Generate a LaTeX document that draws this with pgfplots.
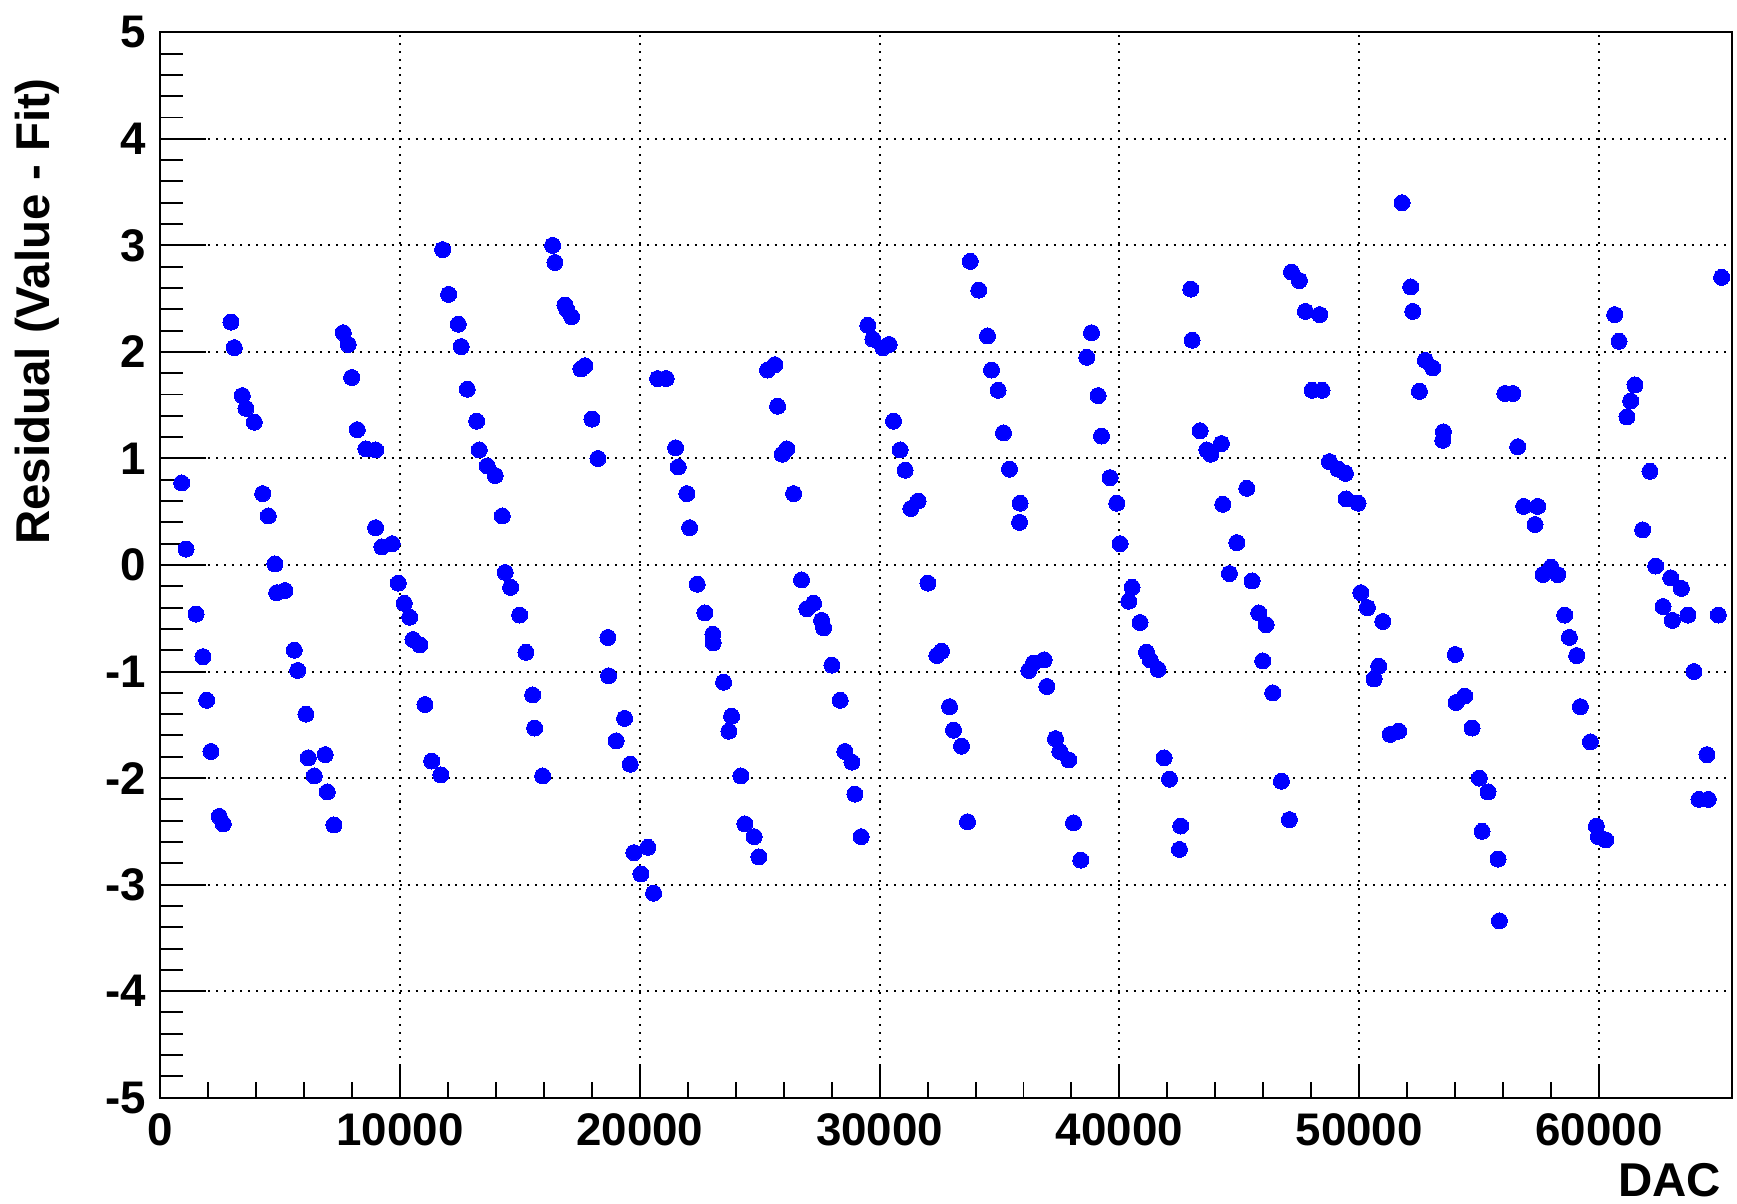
\documentclass[border=0pt]{standalone}
\usepackage{pgfplots}
\usepackage{pgfplotstable}
\pgfplotsset{compat=1.18}
\usepackage{fontspec}
\setmainfont{Liberation Sans}
\definecolor{rootblue}{RGB}{0,0,255}
\pgfplotstableread{
x y
891 0.77
1072 0.15
1489 -0.46
1780 -0.86
1934 -1.27
2114 -1.75
2460 -2.36
2627 -2.43
2948 2.28
3086 2.04
3420 1.59
3573 1.47
3920 1.34
4270 0.67
4506 0.46
4783 0.01
4853 -0.26
5200 -0.24
5588 -0.80
5728 -0.99
6075 -1.40
6172 -1.81
6422 -1.98
6880 -1.78
6964 -2.13
7243 -2.44
7631 2.18
7839 2.07
7981 1.76
8215 1.27
8577 1.09
8981 1.08
8977 0.35
9245 0.17
9674 0.20
9925 -0.17
10175 -0.36
10399 -0.49
10537 -0.70
10829 -0.75
11038 -1.31
11316 -1.84
11704 -1.97
11775 2.96
12025 2.54
12426 2.26
12551 2.05
12801 1.65
13193 1.35
13302 1.08
13635 0.93
13969 0.84
14261 0.46
14386 -0.07
14611 -0.21
14986 -0.47
15249 -0.82
15528 -1.22
15611 -1.53
15945 -1.98
16362 3.00
16458 2.84
16875 2.44
16950 2.40
17154 2.33
17542 1.84
17709 1.87
18001 1.37
18251 1.00
18668 -0.68
18696 -1.04
19014 -1.65
19364 -1.44
19597 -1.87
19752 -2.70
20044 -2.90
20335 -2.65
20573 -3.08
20740 1.75
21099 1.75
21490 1.10
21600 0.92
21962 0.67
22074 0.35
22392 -0.18
22712 -0.45
23045 -0.65
23059 -0.73
23492 -1.10
23713 -1.56
23825 -1.42
24213 -1.98
24380 -2.43
24768 -2.55
24964 -2.74
25327 1.83
25631 1.88
25743 1.49
25936 1.04
26131 1.09
26411 0.67
26744 -0.14
26965 -0.41
27244 -0.36
27578 -0.52
27662 -0.59
28008 -0.94
28354 -1.27
28550 -1.75
28842 -1.85
28967 -2.15
29230 -2.55
29508 2.25
29717 2.12
30134 2.04
30397 2.07
30580 1.35
30856 1.08
31064 0.89
31302 0.53
31606 0.60
32011 -0.17
32386 -0.85
32581 -0.81
32915 -1.33
33082 -1.55
33415 -1.70
33665 -2.41
33780 2.85
34136 2.58
34499 2.15
34666 1.83
34941 1.64
35166 1.24
35416 0.90
35859 0.58
35834 0.40
36221 -0.99
36417 -0.92
36861 -0.89
36972 -1.14
37335 -1.63
37515 -1.75
37890 -1.83
38085 -2.42
38390 -2.77
38641 1.95
38836 2.18
39111 1.59
39250 1.21
39611 0.82
39890 0.58
40028 0.20
40390 -0.34
40528 -0.21
40862 -0.54
41129 -0.82
41279 -0.89
41613 -0.98
41863 -1.81
42088 -2.01
42505 -2.67
42559 -2.45
42977 2.59
43032 2.11
43364 1.26
43645 1.08
43811 1.04
44256 1.14
44311 0.57
44590 -0.08
44896 0.21
45311 0.72
45532 -0.15
45812 -0.45
45978 -0.90
46117 -0.56
46395 -1.20
46757 -2.03
47090 -2.39
47174 2.75
47508 2.67
47758 2.38
48035 1.64
48355 2.35
48452 1.64
48759 0.97
49118 0.90
49426 0.86
49452 0.62
49952 0.58
50065 -0.26
50344 -0.40
50620 -1.07
50815 -0.95
50982 -0.53
51287 -1.59
51649 -1.56
51787 3.40
52149 2.61
52232 2.38
52512 1.63
52762 1.92
53066 1.85
53484 1.17
53512 1.25
54012 -0.84
54038 -1.29
54400 -1.23
54705 -1.53
55010 -2.00
55122 -2.50
55372 -2.13
55789 -2.76
55847 -3.34
56075 1.61
56408 1.61
56611 1.11
56860 0.55
57332 0.38
57444 0.55
57666 -0.09
58000 -0.02
58279 -0.09
58571 -0.47
58767 -0.68
59071 -0.85
59225 -1.33
59642 -1.66
59892 -2.45
59975 -2.55
60280 -2.58
60656 2.35
60835 2.10
61168 1.39
61321 1.54
61502 1.69
61821 0.33
62127 0.88
62365 -0.01
62672 -0.39
62992 -0.12
63060 -0.52
63436 -0.22
63712 -0.47
63962 -1.00
64170 -2.20
64504 -1.78
64559 -2.20
64979 -0.47
65116 2.70
}\resdata
\begin{document}
\begin{tikzpicture}
\begin{axis}[
  scale only axis,
  width=157.14mm, height=106.54mm,
  xmin=0, xmax=65536, ymin=-5, ymax=5,
  xtick={0,10000,...,60000}, minor x tick num=4,
  ytick={-5,-4,...,5}, minor y tick num=4,
  scaled x ticks=false, scaled y ticks=false,
  tick pos=left,
  tick align=inside,
  major tick length=4.6mm, minor tick length=2.3mm,
  xtick style={/pgfplots/major tick length=3.2mm,/pgfplots/minor tick length=1.6mm},
  tick style={black, line width=0.55pt},
  axis line style={black, line width=0.55pt},
  grid=major,
  major grid style={black, line width=0.57pt, dash pattern=on 0.57pt off 1.7pt},
  /pgf/number format/assume math mode=true,
  /pgf/number format/1000 sep={},
  tick label style={font=\fontsize{13}{15}\selectfont\bfseries},
  yticklabel style={inner sep=0pt, xshift=-1.36mm},
  xticklabel style={inner sep=0pt, yshift=-1.5mm},
  label style={font=\fontsize{13.5}{16}\selectfont\bfseries},
  xlabel={DAC},
  ylabel={Residual (Value - Fit)},
  xlabel style={at={(rel axis cs:1,0)}, anchor=north east, inner sep=0pt, xshift=-1mm, yshift=-6.53mm},
  ylabel style={at={([xshift=-14.59mm,yshift=-4.52mm]rel axis cs:0,1)}, anchor=north east, inner sep=0pt},
]
\addplot[color=rootblue, only marks, mark=*, mark size=0.8mm, mark options={draw=rootblue, fill=rootblue, line width=0pt}] table[x=x, y=y] {\resdata};
\coordinate (sw) at (rel axis cs:0,0);
\coordinate (ne) at (rel axis cs:1,1);
\end{axis}
\pgfresetboundingbox
\useasboundingbox ([shift={(-16.03mm,-10.63mm)}]sw) rectangle ([shift={(0.53mm,3.23mm)}]ne);
\end{tikzpicture}
\end{document}
